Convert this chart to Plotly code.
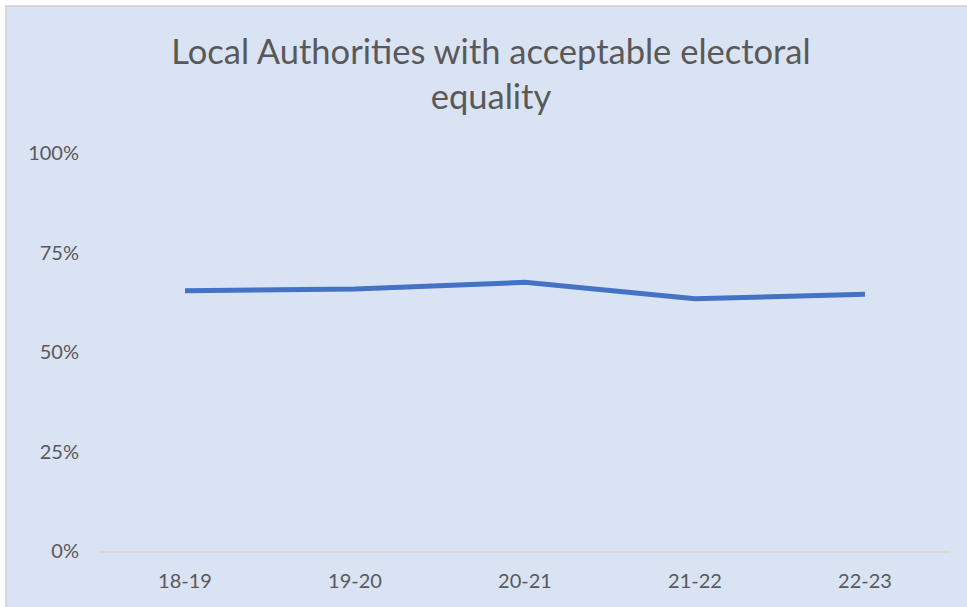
import plotly.graph_objects as go

categories = ["18-19", "19-20", "20-21", "21-22", "22-23"]
values = [0.654, 0.658, 0.675, 0.634, 0.645]
y_ticks = [0, 0.25, 0.5, 0.75, 1.0]
title_text = "Local Authorities with acceptable electoral<br>equality"

W, H = 967, 607
L, R, T, B = 100, 17, 153, 56
pw, ph = W - L - R, H - T - B

def px_x(p):
    return (p - L) / pw

def px_y(p):
    return (H - B - p) / ph

fig = go.Figure()
fig.add_trace(go.Scatter(
    x=categories, y=values, mode="lines",
    line=dict(color="#4472c4", width=5),
    showlegend=False,
))

fig.add_shape(type="rect", xref="paper", yref="paper",
              x0=px_x(6), x1=px_x(975), y0=px_y(615), y1=px_y(6),
              fillcolor="#dae3f3", line=dict(color="#d0d0d0", width=1.5),
              layer="below")

fig.update_layout(
    width=W, height=H,
    margin=dict(l=L, r=R, t=T, b=B),
    paper_bgcolor="white",
    plot_bgcolor="rgba(0,0,0,0)",
    font=dict(family="Lato, sans-serif", color="#595959", size=20),
    title=dict(text=title_text, x=491 / W, xanchor="center",
               y=1 - 64 / H, yanchor="top", yref="container",
               font=dict(size=34.5, color="#595959", family="Lato, sans-serif")),
    xaxis=dict(range=[-0.5, 4.5], showgrid=False, zeroline=False,
               showline=True, linecolor="#d9d9d9", linewidth=2,
               ticks="", ticklabelstandoff=11, fixedrange=True),
    yaxis=dict(range=[0, 1], tickvals=y_ticks, tickformat=".0%",
               showgrid=False, zeroline=False, showline=False,
               ticks="", ticklabelstandoff=20, fixedrange=True),
)

fig.write_html("out.html")
